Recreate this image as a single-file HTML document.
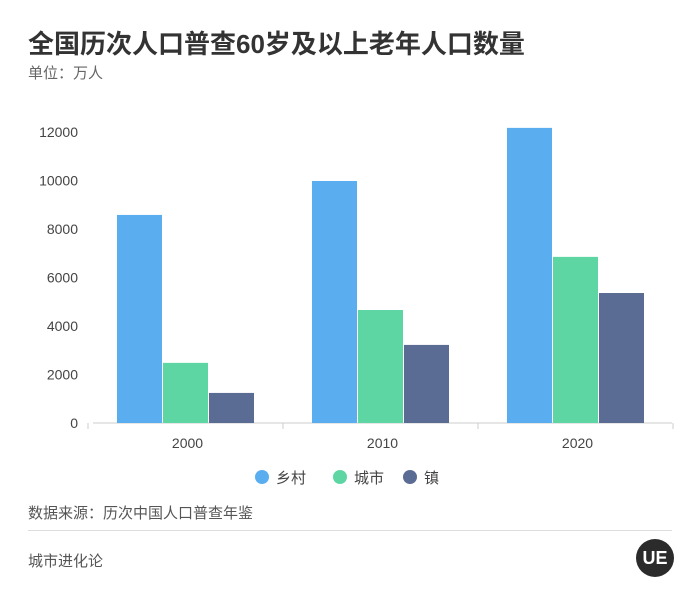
<!DOCTYPE html>
<html><head><meta charset="utf-8"><style>
body{margin:0;background:#fff;font-family:"Liberation Sans","Noto Sans CJK SC",sans-serif;}
#wrap{position:relative;width:700px;height:595px;overflow:hidden;background:#fff}
.t{position:absolute;white-space:nowrap}
</style></head><body>
<div id="wrap">
<div class="t" style="left:28px;top:24px;font-size:26px;font-weight:bold;color:#333">全国历次人口普查60岁及以上老年人口数量</div>
<div class="t" style="left:28px;top:62px;font-size:15px;color:#666">单位：万人</div>
<svg id="chart" width="700" height="500" style="position:absolute;left:0;top:0"></svg>
<div class="t" style="left:28px;top:502px;font-size:15px;color:#555">数据来源：历次中国人口普查年鉴</div>
<div style="position:absolute;left:28px;top:530px;width:644px;height:1px;background:#ddd"></div>
<div class="t" style="left:28px;top:550px;font-size:15px;color:#555">城市进化论</div>
<div style="position:absolute;left:636px;top:539px;width:38px;height:38px;border-radius:50%;background:#2b2b2b;color:#fff;font-weight:bold;font-size:18px;line-height:38px;text-align:center">UE</div>
</div>
<script>
const categories=["2000","2010","2020"];
const seriesNames=["乡村","城市","镇"];
const rural=[8580,9980,12170];
const urban=[2480,4660,6850];
const town=[1240,3220,5360];
const yTicks=[0,2000,4000,6000,8000,10000,12000];
const colors=["#5aaef0","#5dd6a4","#5a6b94"];
const svg=document.getElementById('chart');
const NS="http://www.w3.org/2000/svg";
const y0=423,yPer=291/12000;
function y(v){return y0-v*yPer;}
const groupW=195,left=88;
function gx(i){return left+groupW*i+groupW/2;}
function mk(tag,attrs){const e=document.createElementNS(NS,tag);for(const k in attrs)e.setAttribute(k,attrs[k]);svg.appendChild(e);return e;}
yTicks.forEach(v=>{
  const t=mk('text',{x:78,y:y(v)+5,'text-anchor':'end','font-size':14,fill:'#444'});
  t.textContent=v;
  
  
});
const axis=mk('line',{x1:93,x2:672,y1:y0,y2:y0,stroke:'#ccc'});


[0,1,2,3].forEach(i=>{const tk=mk('line',{x1:left+groupW*i,x2:left+groupW*i,y1:y0,y2:y0+6,stroke:'#ccc'});

});
const series=[rural,urban,town];
const bw=45;
categories.forEach((c,i)=>{
  series.forEach((s,j)=>{
    const x=gx(i)-bw*1.5-1+j*(bw+1);
    const r=mk('rect',{x:x,y:y(s[i]),width:bw,height:y0-y(s[i]),fill:colors[j]});
    
    
  });
  const t=mk('text',{x:gx(i)+2,y:448,'text-anchor':'middle','font-size':14,fill:'#444'});
  t.textContent=c;
  
  
});
const lx=[262,340,410];
seriesNames.forEach((n,j)=>{
  const c=mk('circle',{cx:lx[j],cy:477,r:7,fill:colors[j]});
  
  
  const t=mk('text',{x:lx[j]+14,y:483,'font-size':15,fill:'#444'});
  t.textContent=n;
  
  
});
</script>
</body></html>
